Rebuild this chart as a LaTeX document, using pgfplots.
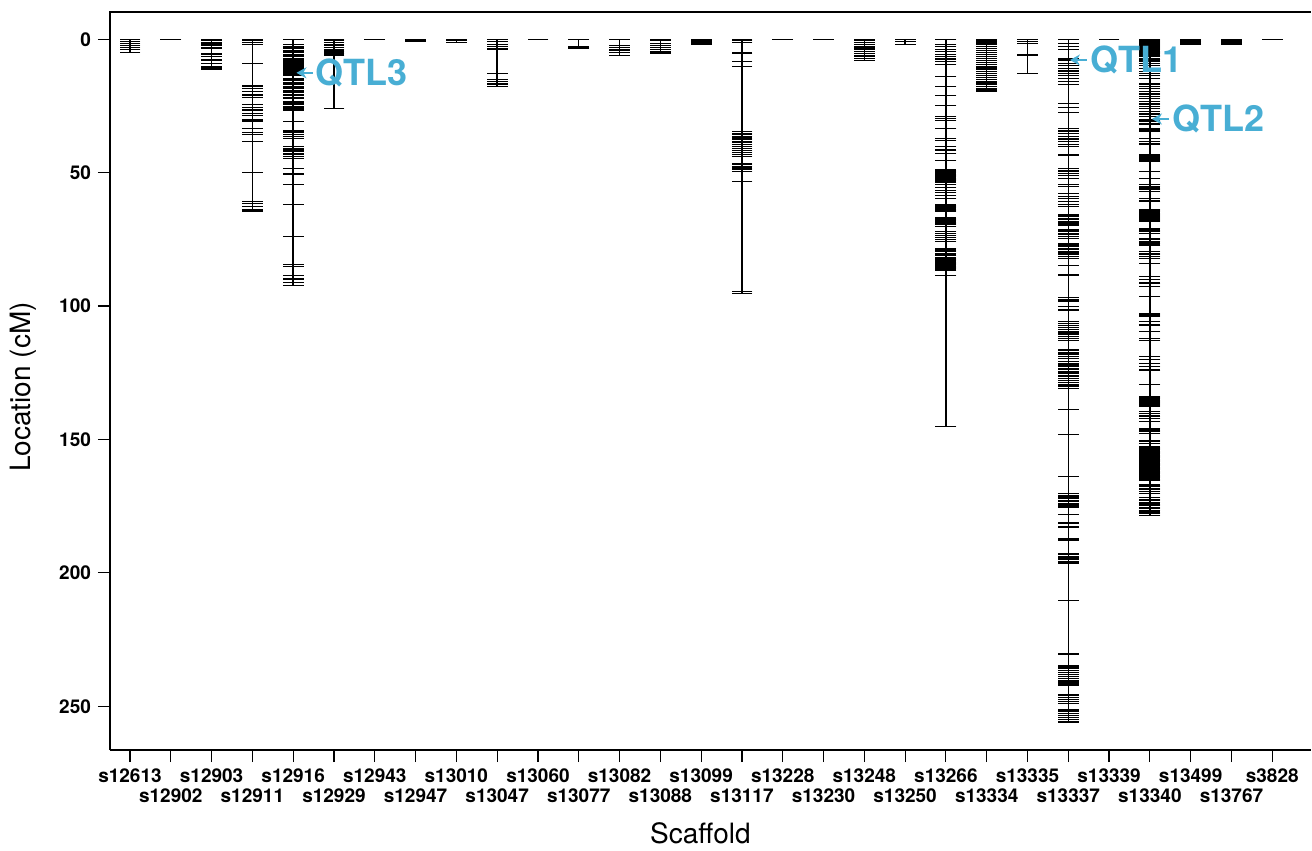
\documentclass[border=0pt]{standalone}
\usepackage{pgfplots}
\pgfplotsset{compat=1.18}
\usepackage{fontspec}
\setmainfont{TeX Gyre Heros}
\usetikzlibrary{arrows.meta}
\definecolor{qtlblue}{RGB}{72,174,212}
\begin{document}
\begin{tikzpicture}
\begin{axis}[
  scale only axis, width=600.5pt, height=369pt,
  xmin=-0.49, xmax=28.95, ymin=-10.2, ymax=266.4, y dir=reverse,
  clip=false,
  axis line style={draw=none},
  tick align=outside, major tick length=6pt,
  every tick/.style={black, line width=0.6pt},
  xtick pos=left, ytick pos=left,
  xtick={0,2,...,28},
  xticklabels={s12613,s12903,s12916,s12943,s13010,s13060,s13082,s13099,s13228,s13248,s13266,s13335,s13339,s13499,s3828},
  extra x ticks={1,3,...,27},
  extra x tick labels={s12902,s12911,s12929,s12947,s13047,s13077,s13088,s13117,s13230,s13250,s13334,s13337,s13340,s13767},
  extra x tick style={xtick pos=left, tick label style={yshift=-10pt}},
  x tick label style={font=\bfseries\fontsize{9.5}{11}\selectfont},
  ytick={0,50,100,150,200,250},
  y tick label style={font=\bfseries\fontsize{9.5}{11}\selectfont, /pgf/number format/assume math mode=true},
  xlabel={Scaffold}, ylabel={Location (cM)},
  every axis x label/.style={at={(axis description cs:0.5,0)}, yshift=-41.5pt, xshift=-5pt, anchor=center, font=\fontsize{14}{16}\selectfont},
  every axis y label/.style={at={(axis description cs:0,0.5)}, xshift=-43.5pt, yshift=-3pt, rotate=90, anchor=center, font=\fontsize{14}{16}\selectfont},
  mk/.style={black, only marks, mark=-, mark size=5.2pt, mark options={line width=0.6pt}},
]
% backbone of each scaffold
\addplot[black, line width=0.75pt, unbounded coords=jump] coordinates {
  (0,0)(0,4.9)(0,nan) (1,0)(1,0.2)(1,nan) (2,0)(2,11.2)(2,nan) (3,0)(3,64.6)(3,nan)
  (4,0)(4,92.4)(4,nan) (5,0)(5,25.9)(5,nan) (7,0)(7,0.9)(7,nan) (8,0)(8,1.2)(8,nan)
  (9,0)(9,17.7)(9,nan) (11,0)(11,3.4)(11,nan) (12,0)(12,6.2)(12,nan) (13,0)(13,5.2)(13,nan)
  (14,0)(14,1.8)(14,nan) (15,0)(15,95.2)(15,nan) (18,0)(18,8)(18,nan) (19,0)(19,2.1)(19,nan)
  (20,0)(20,145.2)(20,nan) (21,0)(21,19.6)(21,nan) (22,0)(22,13)(22,nan) (23,0)(23,256.2)(23,nan)
  (25,0)(25,178.5)(25,nan) (26,0)(26,2)(26,nan) (27,0)(27,2)
};
% markers
\addplot[mk] coordinates {(0,0)(0,0.8)(0,1.6)(0,2.4)(0,3.2)(0,4)(0,4.9)};
\addplot[mk] coordinates {(1,0)(1,0.2)};
\addplot[mk] coordinates {(2,0)(2,0.6)(2,1.2)(2,1.8)(2,2.4)(2,3)(2,3.4)(2,5.3)(2,5.8)(2,6.4)(2,7.8)(2,9)(2,10.3)(2,10.8)(2,11.2)};
\addplot[mk] coordinates {(3,0)(3,0.6)(3,1.2)(3,2)(3,9.2)(3,17.5)(3,18.4)(3,19.6)(3,20.9)(3,21.9)(3,24.6)(3,25.5)(3,26.5)(3,27.8)(3,28.6)(3,30.3)(3,30.9)(3,33.4)(3,34.9)(3,35.6)(3,38.4)(3,50)(3,60.9)(3,61.5)(3,62.8)(3,64)(3,64.6)};
\addplot[mk] coordinates {(4,0)(4,2.1)(4,2.6)(4,3.1)(4,3.6)(4,4.1)(4,4.6)(4,5.1)(4,5.6)(4,6.1)(4,6.5)(4,7.2)(4,7.7)(4,8.2)(4,8.7)(4,9.2)(4,9.7)(4,10.2)(4,10.7)(4,11.2)(4,11.7)(4,12.2)(4,12.7)(4,13.4)(4,14.6)(4,15.1)(4,15.6)(4,16.1)(4,16.6)(4,17.1)(4,17.6)(4,18.1)(4,18.6)(4,19.1)(4,19.6)(4,20.1)(4,20.6)(4,21.1)(4,22)(4,23.3)(4,23.9)(4,24.5)(4,25.1)(4,25.8)(4,26.5)(4,30.9)(4,34.4)(4,35)(4,35.6)(4,36.4)(4,37.1)(4,40.3)(4,40.9)(4,41.5)(4,42.1)(4,42.7)(4,43.3)(4,43.9)(4,44.6)(4,48.6)(4,50.5)(4,54.6)(4,61.8)(4,74)(4,84.4)(4,85.3)(4,88.6)(4,89.9)(4,91.1)(4,92.4)};
\addplot[mk] coordinates {(5,0)(5,0.6)(5,1.2)(5,1.9)(5,2.5)(5,3.1)(5,3.8)(5,4.4)(5,5.2)(5,5.9)(5,25.9)};
\addplot[mk] coordinates {(6,0)};
\addplot[mk] coordinates {(7,0)(7,0.5)(7,0.9)};
\addplot[mk] coordinates {(8,0)(8,0.6)(8,1.2)};
\addplot[mk] coordinates {(9,0)(9,0.9)(9,2.1)(9,2.8)(9,3.4)(9,4)(9,13)(9,15.2)(9,15.9)(9,16.5)(9,17.1)(9,17.7)};
\addplot[mk] coordinates {(10,0)};
\addplot[mk] coordinates {(11,0)(11,2.9)(11,3.4)};
\addplot[mk] coordinates {(12,0)(12,2.5)(12,3)(12,3.8)(12,4.2)(12,5)(12,6.2)};
\addplot[mk] coordinates {(13,0)(13,0.6)(13,1.5)(13,2.5)(13,3.2)(13,4)(13,4.6)(13,5.2)};
\addplot[mk] coordinates {(14,0)(14,0.4)(14,0.8)(14,1.2)(14,1.6)(14,1.8)};
\addplot[mk] coordinates {(15,0)(15,0.5)(15,1.2)(15,5.2)(15,8.4)(15,10.2)(15,34.6)(15,35.2)(15,35.8)(15,36.4)(15,37)(15,37.6)(15,38.2)(15,38.8)(15,39.4)(15,40.2)(15,40.9)(15,41.7)(15,42.5)(15,43.2)(15,44)(15,46.5)(15,47.1)(15,47.7)(15,48.3)(15,48.9)(15,49.6)(15,53.4)(15,94.6)(15,95.2)};
\addplot[mk] coordinates {(16,0)};
\addplot[mk] coordinates {(17,0)};
\addplot[mk] coordinates {(18,0)(18,0.6)(18,1.3)(18,2)(18,2.6)(18,3.3)(18,4)(18,4.6)(18,5.3)(18,6)(18,6.6)(18,7.3)(18,8)};
\addplot[mk] coordinates {(19,0)(19,1)(19,2.1)};
\addplot[mk] coordinates {(20,0)(20,2.1)(20,2.8)(20,4)(20,4.6)(20,5.6)(20,6.5)(20,7.4)(20,8.4)(20,9.4)(20,14)(20,17.8)(20,21.1)(20,24.9)(20,29)(20,29.6)(20,30.6)(20,33.4)(20,37.1)(20,38.1)(20,40.3)(20,41.5)(20,42.8)(20,45.6)(20,49)(20,49.5)(20,50)(20,50.5)(20,51)(20,51.5)(20,52)(20,52.5)(20,53)(20,53.5)(20,54.6)(20,55.6)(20,56.6)(20,57.6)(20,58.6)(20,59.6)(20,62.1)(20,62.6)(20,63.1)(20,63.6)(20,64.1)(20,64.6)(20,67)(20,67.5)(20,68)(20,68.5)(20,69)(20,69.5)(20,70.1)(20,72)(20,72.8)(20,73.6)(20,74.4)(20,75.2)(20,75.9)(20,78.4)(20,79)(20,79.6)(20,80.2)(20,80.9)(20,82)(20,82.5)(20,83)(20,83.5)(20,84)(20,84.5)(20,85)(20,85.5)(20,86)(20,86.5)(20,88.6)(20,145.2)};
\addplot[mk] coordinates {(21,0)(21,0.7)(21,1.4)(21,2.1)(21,2.8)(21,3.5)(21,4.2)(21,4.9)(21,5.6)(21,6.4)(21,7.2)(21,8)(21,8.8)(21,9.6)(21,10.4)(21,11.2)(21,12)(21,12.8)(21,13.6)(21,14.4)(21,15.2)(21,16)(21,16.8)(21,17.6)(21,18.4)(21,19)(21,19.6)};
\addplot[mk] coordinates {(22,0)(22,0.9)(22,1.5)(22,5.9)(22,13)};
\addplot[mk] coordinates {(23,0)(23,1.5)(23,2.8)(23,4)(23,7.1)(23,7.8)(23,9)(23,10)(23,10.9)(23,11.9)(23,12.8)(23,13.6)(23,14.6)(23,15.9)(23,17.1)(23,24)(23,25.6)(23,27.4)(23,33.4)(23,34.4)(23,35.4)(23,36.4)(23,37.4)(23,38.4)(23,39.4)(23,40.3)(23,43.4)(23,48.4)(23,49.4)(23,50.3)(23,51.1)(23,52.1)(23,54.4)(23,55.3)(23,57.8)(23,58.8)(23,59.8)(23,60.8)(23,61.8)(23,62.8)(23,65.9)(23,66.5)(23,67.1)(23,67.7)(23,68.3)(23,68.9)(23,69.6)(23,71.5)(23,72.1)(23,72.7)(23,73.3)(23,73.9)(23,74.6)(23,76.5)(23,77.1)(23,77.7)(23,78.3)(23,78.9)(23,79.5)(23,80.1)(23,80.8)(23,81.4)(23,82.1)(23,84.9)(23,88.4)(23,96.9)(23,97.5)(23,98.1)(23,100.3)(23,101.5)(23,105.9)(23,106.6)(23,107.3)(23,108)(23,108.7)(23,109.4)(23,110.1)(23,110.8)(23,111.5)(23,112.2)(23,112.8)(23,116.5)(23,117.3)(23,118)(23,118.8)(23,119.6)(23,120.9)(23,121.5)(23,122.1)(23,122.7)(23,123.3)(23,123.9)(23,124.5)(23,125.1)(23,125.9)(23,126.5)(23,127.2)(23,127.9)(23,128.6)(23,129.3)(23,130)(23,130.9)(23,138.8)(23,148.1)(23,163.9)(23,170.4)(23,171)(23,171.6)(23,172.2)(23,172.8)(23,173.4)(23,174)(23,174.6)(23,175.3)(23,178)(23,181.3)(23,182.8)(23,187.3)(23,188)(23,192.6)(23,193.2)(23,193.8)(23,194.4)(23,195)(23,195.6)(23,196.3)(23,210.4)(23,230.4)(23,234.9)(23,235.7)(23,236.5)(23,237.3)(23,238.1)(23,238.9)(23,239.7)(23,240.5)(23,241.3)(23,242)(23,245.8)(23,246.6)(23,247.4)(23,248.2)(23,249)(23,251.4)(23,252.1)(23,252.8)(23,253.5)(23,254.2)(23,254.9)(23,255.6)(23,256.2)};
\addplot[mk] coordinates {(24,0)};
\addplot[mk] coordinates {(25,0)(25,0.4)(25,0.8)(25,1.2)(25,1.6)(25,2)(25,2.4)(25,2.8)(25,3.2)(25,3.6)(25,4)(25,4.4)(25,4.8)(25,5.3)(25,5.9)(25,6.6)(25,7.4)(25,8.2)(25,9)(25,9.8)(25,10.9)(25,12)(25,12.8)(25,13.6)(25,14.6)(25,16.5)(25,17.1)(25,17.8)(25,18.4)(25,19.6)(25,20.2)(25,20.8)(25,21.5)(25,22.1)(25,23.4)(25,24)(25,24.6)(25,25.2)(25,25.9)(25,27.1)(25,27.7)(25,28.3)(25,29)(25,30.3)(25,30.9)(25,31.5)(25,32.1)(25,33.4)(25,34)(25,34.6)(25,37.1)(25,38.4)(25,39)(25,39.6)(25,43.4)(25,43.8)(25,44.2)(25,44.6)(25,45)(25,45.4)(25,45.9)(25,49.6)(25,52.1)(25,54.6)(25,55.2)(25,55.8)(25,56.4)(25,57.1)(25,59.6)(25,60.6)(25,63.9)(25,64.3)(25,64.7)(25,65.1)(25,65.5)(25,65.9)(25,66.3)(25,66.7)(25,67.1)(25,67.5)(25,67.9)(25,68.4)(25,70.9)(25,71.5)(25,72.1)(25,72.8)(25,74.6)(25,75.2)(25,75.8)(25,76.4)(25,77.1)(25,79.6)(25,80.2)(25,80.8)(25,81.4)(25,82.1)(25,84)(25,89)(25,90.2)(25,91.4)(25,92.8)(25,96.5)(25,102.8)(25,103.2)(25,103.6)(25,104)(25,105.9)(25,107.1)(25,109.6)(25,112.1)(25,113)(25,119)(25,120)(25,121.5)(25,122.8)(25,124)(25,129.5)(25,134)(25,134.4)(25,134.8)(25,135.2)(25,135.6)(25,136)(25,136.4)(25,136.8)(25,137.2)(25,137.8)(25,139.6)(25,140.4)(25,141.2)(25,142.1)(25,143.4)(25,145.9)(25,146.5)(25,147.1)(25,147.8)(25,150.3)(25,150.9)(25,151.5)(25,152.8)(25,153.3)(25,153.8)(25,154.3)(25,154.8)(25,155.3)(25,155.8)(25,156.3)(25,156.8)(25,157.3)(25,157.8)(25,158.3)(25,158.8)(25,159.3)(25,159.8)(25,160.3)(25,160.8)(25,161.3)(25,161.8)(25,162.3)(25,162.8)(25,163.3)(25,163.8)(25,164.3)(25,164.8)(25,165.3)(25,167.1)(25,167.7)(25,168.3)(25,168.9)(25,169.5)(25,170.4)(25,171.8)(25,172.4)(25,173)(25,173.6)(25,174.2)(25,174.8)(25,175.4)(25,176)(25,176.6)(25,177.2)(25,177.8)(25,178.5)};
\addplot[mk] coordinates {(26,0)(26,0.7)(26,1.4)(26,2)};
\addplot[mk] coordinates {(27,0)(27,0.7)(27,1.4)(27,2)};
\addplot[mk] coordinates {(28,0)};
% frame: left, top, bottom
\draw[black, line width=0.7pt] (axis description cs:0,0) -- (axis description cs:0,1) -- (axis description cs:1,1);
\draw[black, line width=0.7pt] (axis description cs:0,0) -- (axis description cs:1,0);
% anchor points for the QTL annotations
\coordinate (q3a) at (axis cs:4.48,12.6);  \coordinate (q3b) at (axis cs:4.08,12.6);  \coordinate (q3t) at (axis cs:4.53,12.6);
\coordinate (q1a) at (axis cs:23.45,7.8);  \coordinate (q1b) at (axis cs:23.04,7.8);  \coordinate (q1t) at (axis cs:23.53,7.8);
\coordinate (q2a) at (axis cs:25.47,29.9); \coordinate (q2b) at (axis cs:25.05,29.9); \coordinate (q2t) at (axis cs:25.54,29.9);
% page margins
\path (axis description cs:0,0) ++(-55pt,-48.5pt) rectangle ++(0.1pt,0.1pt);
\path (axis description cs:1,1) ++(0.5pt,6pt) rectangle ++(-0.1pt,-0.1pt);
\end{axis}
% QTL annotations drawn last, above the markers
\begin{scope}[qtlblue]
\draw[line width=1.2pt, -{Stealth[length=5pt,width=5.5pt]}] (q3a) -- (q3b);
\node[anchor=west, inner sep=0pt, font=\bfseries\fontsize{18}{20}\selectfont] at (q3t) {QTL3};
\draw[line width=1.2pt, -{Stealth[length=5pt,width=5.5pt]}] (q1a) -- (q1b);
\node[anchor=west, inner sep=0pt, font=\bfseries\fontsize{18}{20}\selectfont] at (q1t) {QTL1};
\draw[line width=1.2pt, -{Stealth[length=5pt,width=5.5pt]}] (q2a) -- (q2b);
\node[anchor=west, inner sep=0pt, font=\bfseries\fontsize{18}{20}\selectfont] at (q2t) {QTL2};
\end{scope}
\end{tikzpicture}
\end{document}
